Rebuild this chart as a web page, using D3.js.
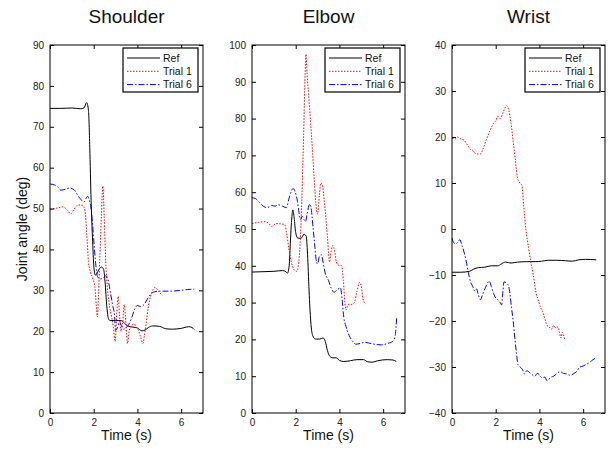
<!DOCTYPE html>
<html>
<head>
<meta charset="utf-8">
<script src="https://cdn.jsdelivr.net/npm/d3@7"></script>
<style>
  body { margin: 0; background: #fff; }
  svg { font-family: Arial, "Liberation Sans", Helvetica, sans-serif; }
</style>
</head>
<body>
<svg id="chart" width="608" height="451"></svg>
<script>

// series are [time (s), angle (deg)] pairs
let shoulderRef = [[0,74.5],[0.5,74.5],[1.0,74.6],[1.4,74.4],[1.55,74.6],[1.68,75.9],[1.76,74],[1.82,65],[1.88,52],[1.95,42],[2.02,35],[2.08,33.7],[2.15,34.2],[2.25,35.2],[2.35,35.7],[2.45,35.2],[2.52,32],[2.6,26],[2.68,23],[2.75,22.6],[3.0,22.6],[3.25,22.6],[3.4,22],[3.55,21.3],[3.8,21.0],[4.0,20.8],[4.2,20.1],[4.35,20.3],[4.5,20.9],[4.7,21.3],[5.0,21.2],[5.3,20.6],[5.6,20.5],[6.0,20.7],[6.35,21.1],[6.5,20.9],[6.6,20.4]]
let shoulderTrial1 = [[0,49.8],[0.3,50.1],[0.6,50.4],[0.8,49.6],[0.95,48.7],[1.1,49.8],[1.3,50.9],[1.5,50.8],[1.6,49.5],[1.68,44],[1.76,37],[1.85,34.5],[1.95,33],[2.05,31],[2.12,26],[2.17,23.5],[2.22,29],[2.28,38],[2.35,48],[2.42,55.5],[2.48,48],[2.55,37],[2.62,31],[2.7,27],[2.8,24],[2.9,21],[2.98,17.5],[3.05,24],[3.12,28.5],[3.18,24],[3.25,20],[3.32,22],[3.4,26.5],[3.47,22],[3.55,17],[3.62,20],[3.72,21.3],[3.85,21.8],[3.95,21],[4.05,20.2],[4.15,18.5],[4.25,17],[4.32,19],[4.4,22],[4.5,26],[4.6,28.5],[4.7,30],[4.8,30.7],[4.9,30.3],[5.0,29.5],[5.1,29],[5.15,28.7]]
let shoulderTrial6 = [[0,56],[0.2,55.8],[0.35,55.3],[0.5,54.5],[0.7,54.7],[0.9,55],[1.1,54.6],[1.25,53.4],[1.4,52.3],[1.55,51.6],[1.65,52.5],[1.72,53],[1.8,52],[1.88,50],[1.95,46],[2.02,41],[2.1,36],[2.18,33.3],[2.3,32.8],[2.45,33],[2.55,33.6],[2.62,33.2],[2.7,31.5],[2.78,29],[2.88,26],[2.95,24],[3.0,20.2],[3.08,20.8],[3.18,22.3],[3.28,21.2],[3.38,20.5],[3.5,21],[3.62,21.8],[3.75,23.5],[3.88,25.5],[4.0,26.3],[4.15,26],[4.3,26.5],[4.45,27.8],[4.6,29],[4.75,29.6],[5.0,29.8],[5.5,29.8],[6.0,30],[6.3,30.2],[6.6,30.3]]

let elbowRef = [[0,38.3],[0.5,38.4],[1.0,38.5],[1.4,38.7],[1.55,38.4],[1.62,38],[1.7,40],[1.76,47],[1.82,53],[1.87,55.2],[1.93,53],[2.0,49],[2.1,47.5],[2.25,47.5],[2.38,48.6],[2.48,48],[2.55,42],[2.62,32],[2.7,24],[2.78,21],[2.9,20.1],[3.1,20.1],[3.25,20.4],[3.35,19.5],[3.45,17],[3.55,15.5],[3.7,15],[3.85,15],[4.0,14.3],[4.2,14],[4.5,14.2],[4.8,14.5],[5.1,14.5],[5.3,13.9],[5.5,13.8],[5.75,14.2],[6.2,14.5],[6.45,14.4],[6.6,14]]
let elbowTrial1 = [[0,51.5],[0.3,51.8],[0.6,52],[0.8,51.3],[0.9,50.7],[1.1,51.5],[1.3,51.4],[1.5,51.2],[1.58,49],[1.68,45],[1.8,41],[1.92,39],[2.05,38.5],[2.12,40],[2.2,46],[2.28,58],[2.36,75],[2.43,92],[2.47,97.5],[2.52,92],[2.6,86],[2.68,79],[2.76,72],[2.84,64],[2.92,57],[3.0,54],[3.08,59],[3.15,62.5],[3.22,62],[3.3,58],[3.38,53],[3.45,48],[3.55,41],[3.62,44],[3.7,45.5],[3.78,44],[3.86,41],[3.95,40.2],[4.1,40],[4.18,36],[4.25,30],[4.3,28],[4.4,29.5],[4.55,29.5],[4.68,30],[4.8,33],[4.93,35.5],[5.0,34.5],[5.08,31],[5.15,30]]
let elbowTrial6 = [[0,58.5],[0.15,58.3],[0.3,57.5],[0.45,56.5],[0.7,55.8],[0.9,56.4],[1.05,56.2],[1.2,56.6],[1.4,56.2],[1.58,55.8],[1.68,58],[1.78,60],[1.88,61],[1.98,60],[2.08,57.5],[2.15,54.5],[2.22,52.5],[2.3,53.5],[2.38,52.5],[2.45,52],[2.52,54],[2.6,56.3],[2.65,56.8],[2.72,55],[2.8,50],[2.88,45],[2.95,41],[3.0,40.5],[3.08,42.5],[3.18,43],[3.25,41],[3.35,38],[3.5,36],[3.62,34],[3.75,32.8],[3.9,33.5],[4.05,34],[4.12,31],[4.2,26],[4.3,23.5],[4.45,21],[4.6,19.5],[4.75,18.7],[4.95,18.9],[5.15,19.2],[5.5,18.8],[5.9,18.5],[6.2,18.9],[6.45,19.5],[6.55,21],[6.62,26]]

let wristRef = [[0,-9.4],[0.4,-9.4],[0.8,-9.2],[1.0,-8.7],[1.2,-8.4],[1.5,-8.3],[1.8,-8.0],[2.1,-8.0],[2.25,-7.6],[2.45,-7.2],[2.7,-7.4],[3.0,-7.2],[3.4,-7.1],[3.8,-7.1],[4.1,-7.0],[4.4,-6.8],[4.8,-6.8],[5.2,-6.9],[5.5,-7.0],[5.8,-6.7],[6.1,-6.6],[6.6,-6.7]]
let wristTrial1 = [[0,19.8],[0.15,19.6],[0.25,20],[0.4,19.6],[0.55,19.3],[0.7,18.3],[0.85,17.3],[1.0,16.8],[1.1,16.3],[1.3,16.3],[1.45,17.8],[1.6,19.8],[1.75,21.5],[1.9,23],[2.0,23.5],[2.1,24.5],[2.2,24],[2.35,25.5],[2.5,26.8],[2.6,25.8],[2.7,23],[2.8,19],[2.9,15],[3.0,11],[3.1,10],[3.2,9.5],[3.28,5],[3.38,0],[3.5,-4],[3.6,-7],[3.72,-10],[3.85,-14],[3.95,-15.5],[4.05,-17],[4.15,-18],[4.25,-19.5],[4.35,-21],[4.45,-21.3],[4.55,-21.8],[4.65,-21],[4.75,-21.5],[4.85,-21.3],[4.92,-22.5],[4.98,-23.7],[5.05,-22.5],[5.15,-24]]
let wristTrial6 = [[0,-2],[0.08,-3],[0.18,-3.2],[0.28,-2.8],[0.36,-2.3],[0.45,-3.5],[0.55,-5],[0.65,-7],[0.75,-9.5],[0.85,-11.5],[0.95,-12.5],[1.05,-13.5],[1.12,-13],[1.2,-14.2],[1.3,-15.4],[1.38,-14.5],[1.48,-13.3],[1.6,-12],[1.7,-11.3],[1.8,-12.5],[1.9,-14],[2.0,-15],[2.1,-15.4],[2.2,-16],[2.27,-16.5],[2.32,-14],[2.38,-11.5],[2.48,-11.7],[2.58,-12.3],[2.65,-14],[2.72,-17],[2.8,-20],[2.88,-24],[2.95,-27],[3.02,-29.5],[3.12,-30],[3.22,-30.5],[3.32,-31.5],[3.42,-30.8],[3.55,-31.2],[3.65,-31.6],[3.78,-32],[3.9,-31.4],[4.0,-31.7],[4.1,-32.3],[4.25,-32.2],[4.35,-33],[4.5,-32.3],[4.65,-32],[4.8,-31.4],[4.95,-31],[5.1,-31.4],[5.25,-31.5],[5.4,-31.8],[5.55,-31.5],[5.7,-31],[5.85,-30],[6.0,-29.8],[6.15,-29.4],[6.3,-29],[6.45,-28.4],[6.6,-28]]

let titles = ["Shoulder", "Elbow", "Wrist"]
let yDomains = [[0, 90], [0, 100], [-40, 40]]
let timeTicks = [0, 2, 4, 6]
let seriesNames = ["Ref", "Trial 1", "Trial 6"]
let panelData = [
  [shoulderRef, shoulderTrial1, shoulderTrial6],
  [elbowRef, elbowTrial1, elbowTrial6],
  [wristRef, wristTrial1, wristTrial6]
]

let styles = [
  {color: "#000000", dash: null},
  {color: "#ff0000", dash: "1.5,1.5"},
  {color: "#0000ff", dash: "6,2,1.5,2"}
]

let svg = d3.select("#chart")
let lefts = [50, 252, 452]
let plotTop = 45, plotW = 153, plotH = 368, tickLen = 4

for (let p = 0; p < 3; p++) {

  let g = svg.append("g").attr("transform", "translate(" + lefts[p] + "," + plotTop + ")")

  let x = d3.scaleLinear().domain([0, 7]).range([0, plotW])
  let y = d3.scaleLinear().domain(yDomains[p]).range([plotH, 0])
  let yTicks = d3.range(yDomains[p][0], yDomains[p][1] + 1, 10)

  // lines first so the box sits on top
  let line = d3.line().x(d => x(d[0])).y(d => y(d[1])).curve(d3.curveMonotoneX)

  panelData[p].forEach(function(series, i) {
    g.append("path")
      .datum(series)
      .attr("d", line)
      .attr("fill", "none")
      .attr("stroke", styles[i].color)
      .attr("stroke-width", 1)
      .attr("stroke-dasharray", styles[i].dash)
  })

  // matlab style box: ticks inward on all four sides
  g.append("g").attr("transform", "translate(0," + plotH + ")")
    .call(d3.axisBottom(x).tickValues(timeTicks).tickFormat(d3.format("d")).tickSizeInner(-tickLen).tickSizeOuter(0).tickPadding(6))
  g.append("g")
    .call(d3.axisTop(x).tickValues(timeTicks).tickSizeInner(-tickLen).tickSizeOuter(0).tickFormat(""))
  g.append("g")
    .call(d3.axisLeft(y).tickValues(yTicks).tickFormat(d3.format("d")).tickSizeInner(-tickLen).tickSizeOuter(0).tickPadding(6))
  g.append("g").attr("transform", "translate(" + plotW + ",0)")
    .call(d3.axisRight(y).tickValues(yTicks).tickSizeInner(-tickLen).tickSizeOuter(0).tickFormat(""))

  g.selectAll(".domain").remove()
  g.selectAll(".tick line").attr("stroke", "#000")
  g.selectAll(".tick text").attr("font-size", "10px").attr("fill", "#222")

  g.append("rect")
    .attr("width", plotW)
    .attr("height", plotH)
    .attr("fill", "none")
    .attr("stroke", "#000")
    .attr("stroke-width", 1)

  svg.append("text")
    .attr("x", lefts[p] + plotW / 2)
    .attr("y", 23)
    .attr("text-anchor", "middle")
    .attr("font-size", "19px")
    .attr("fill", "#111")
    .text(titles[p])

  svg.append("text")
    .attr("x", lefts[p] + plotW / 2)
    .attr("y", 440)
    .attr("text-anchor", "middle")
    .attr("font-size", "14px")
    .attr("fill", "#111")
    .text("Time (s)")

  // legend
  let lg = g.append("g").attr("transform", "translate(" + (plotW - 80) + ",3)")

  lg.append("rect")
    .attr("width", 75)
    .attr("height", 44)
    .attr("fill", "#fff")
    .attr("stroke", "#000")
    .attr("stroke-width", 1.2)

  seriesNames.forEach(function(name, i) {
    let ly = 10 + i * 13.3
    lg.append("line")
      .attr("x1", 4).attr("x2", 37)
      .attr("y1", ly).attr("y2", ly)
      .attr("stroke", styles[i].color)
      .attr("stroke-width", 1)
      .attr("stroke-dasharray", styles[i].dash)
    lg.append("text")
      .attr("x", 40)
      .attr("y", ly + 3.8)
      .attr("font-size", "10.5px")
      .attr("fill", "#111")
      .text(name)
  })
}

svg.append("text")
  .attr("transform", "translate(27,229) rotate(-90)")
  .attr("text-anchor", "middle")
  .attr("font-size", "14px")
  .attr("fill", "#111")
  .text("Joint angle (deg)")

</script>
</body>
</html>
